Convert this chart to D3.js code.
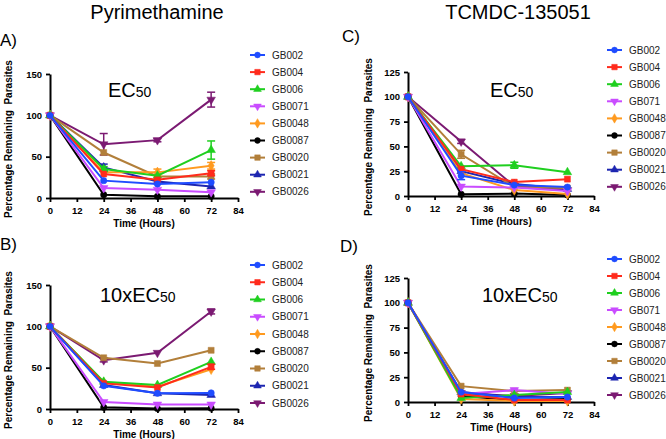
<!DOCTYPE html>
<html><head><meta charset="utf-8">
<script src="https://cdn.jsdelivr.net/npm/d3@7"></script>
<style>body{margin:0;background:#fff} text{font-family:"Liberation Sans",Arial,sans-serif}</style>
</head><body><svg id="c" width="666" height="439"></svg>
<script>
const hours=[0,24,48,72];
const xTicks=[0,12,24,36,48,60,72,84];
const strainsPyr=["GB002","GB004","GB006","GB0071","GB0048","GB0087","GB0020","GB0021","GB0026"];
const strainsTc=["GB002","GB004","GB006","GB071","GB0048","GB0087","GB0020","GB0021","GB0026"];
const colors=["#1f4cff","#ff2b1c","#1fcf1f","#c94cff","#ff9a1f","#000000","#b27f3a","#1c25b0","#7b1a72"];
const shapes=["circle","square","triangle","triangleDown","diamond","circle","square","triangle","triangleDown"];

// A) Pyrimethamine EC50
const pyrEC50=[[100,21,17,19],[100,29,22,30],[100,35,27,58],[100,12,10,7],[100,31,31,39],[100,4,2,2],[100,55,26,26],[100,37,20,14],[100,65,70,119]];
const pyrEC50Err=[[0,0,0,0],[0,0,0,3],[0,3,0,11],[0,0,0,0],[0,0,4,4],[0,0,0,0],[0,0,0,3],[0,4,0,0],[0,13,2,9]];
// B) Pyrimethamine 10xEC50
const pyr10EC50=[[100,28,19,19.5],[100,31,26,51],[100,33,29,57],[100,8.5,5.5,5.5],[100,32,27,48],[100,2,0.5,1],[100,62,55,71],[100,29,19,17],[100,59,68,118]];
const pyr10EC50Err=[[0,0,0,0],[0,0,0,3],[0,0,0,0],[0,0,0,0],[0,0,0,0],[0,0,0,0],[0,0,0,0],[0,0,0,0],[0,2,0,3]];
// C) TCMDC-135051 EC50
const tcEC50=[[100,20.5,11,9],[100,27,14,17],[100,30,31,24],[100,9.5,8.5,5],[100,23,6,2],[100,1.7,2.4,1],[100,42,9,8],[100,25,12,7],[100,55,10,6]];
const tcEC50Err=[[0,4,0,0],[0,0,0,0],[0,0,3,0],[0,0,0,0],[0,0,0,0],[0,0,0,0],[0,4,0,0],[0,0,0,0],[0,2,0,0]];
// D) TCMDC-135051 10xEC50
const tc10EC50=[[100,10,4,5],[100,8,2,2],[100,4,7,10],[100,8,12,8],[100,3,1,1],[100,6,2,3],[100,16,11,12],[100,10,5,5],[100,9,6,9]];
const tc10EC50Err=[[0,0,0,0],[0,0,0,0],[0,0,0,0],[0,0,0,0],[0,0,0,0],[0,0,0,0],[0,0,0,0],[0,0,0,0],[0,0,0,0]];

const yTicksPyr=[0,50,100,150];
const yTicksTc=[0,25,50,75,100,125];

const svg=d3.select("#c");
const symMap={circle:d3.symbolCircle,square:d3.symbolSquare,triangle:d3.symbolTriangle,triangleDown:d3.symbolTriangle,diamond:d3.symbolDiamond};

const panels=[
 {letter:"A)",lx:0,ly:46,vals:pyrEC50,err:pyrEC50Err,names:strainsPyr,x0:50,x1:238,yT:74,yB:198,ymax:150,yt:yTicksPyr,label:"EC",sub:"50",labX:108,labY:97,legX:250,legY:55,legStep:17.1,ylabX:12},
 {letter:"B)",lx:0,ly:250,vals:pyr10EC50,err:pyr10EC50Err,names:strainsPyr,x0:50,x1:238,yT:285,yB:409,ymax:150,yt:yTicksPyr,label:"10xEC",sub:"50",labX:100,labY:302,legX:250,legY:265,legStep:17.25,ylabX:12},
 {letter:"C)",lx:342,ly:42,vals:tcEC50,err:tcEC50Err,names:strainsTc,x0:408,x1:594,yT:72,yB:196,ymax:125,yt:yTicksTc,label:"EC",sub:"50",labX:490,labY:97,legX:607,legY:50,legStep:17.1,ylabX:372},
 {letter:"D)",lx:340,ly:252,vals:tc10EC50,err:tc10EC50Err,names:strainsTc,x0:408,x1:594,yT:278,yB:402,ymax:125,yt:yTicksTc,label:"10xEC",sub:"50",labX:482,labY:302,legX:607,legY:259,legStep:17,ylabX:372}
];

svg.append("text").attr("x",157).attr("y",19).attr("text-anchor","middle").attr("font-size",20).text("Pyrimethamine");
svg.append("text").attr("x",518).attr("y",19).attr("text-anchor","middle").attr("font-size",20).text("TCMDC-135051");

function marker(g,shape,color,x,y,size){
  g.append("path").attr("d",d3.symbol().type(symMap[shape]).size(size)())
   .attr("transform",`translate(${x},${y})`+(shape==="triangleDown"?" rotate(180)":""))
   .attr("fill",color).attr("stroke",color).attr("stroke-width",0.5);
}

panels.forEach(p=>{
  const g=svg.append("g");
  const x=d3.scaleLinear().domain([0,84]).range([p.x0,p.x1]);
  const y=d3.scaleLinear().domain([0,p.ymax]).range([p.yB,p.yT]);
  g.append("text").attr("x",p.lx).attr("y",p.ly).attr("font-size",17).text(p.letter);
  // axes
  const xa=g.append("g").attr("transform",`translate(0,${p.yB})`)
    .call(d3.axisBottom(x).tickValues(xTicks).tickSize(4).tickSizeOuter(0).tickFormat(d3.format("d")));
  const ya=g.append("g").attr("transform",`translate(${p.x0},0)`)
    .call(d3.axisLeft(y).tickValues(p.yt).tickSize(4).tickSizeOuter(0));
  [xa,ya].forEach(a=>{
    a.select(".domain").attr("stroke","#000").attr("stroke-width",2);
    a.selectAll(".tick line").attr("stroke","#000").attr("stroke-width",1.8);
    a.selectAll(".tick text").attr("font-size",9.5).attr("font-weight","bold").attr("fill","#000")
      .attr("font-family",'"Liberation Sans",Arial,sans-serif');
  });
  xa.selectAll(".tick text").attr("dy","0.9em");
  ya.selectAll(".tick text").attr("dx","-1px");
  g.append("text").attr("x",(p.x0+p.x1)/2).attr("y",p.yB+29).attr("text-anchor","middle")
    .attr("font-size",10).attr("font-weight","bold").text("Time (Hours)");
  g.append("text").attr("transform",`translate(${p.ylabX},${(p.yT+p.yB)/2+3}) rotate(-90)`)
    .attr("text-anchor","middle").attr("font-size",10).attr("font-weight","bold")
    .attr("xml:space","preserve").text("Percentage Remaining  Parasites");
  // inner label
  const t=g.append("text").attr("x",p.labX).attr("y",p.labY).attr("font-size",20);
  t.append("tspan").text(p.label);
  t.append("tspan").attr("font-size",14).text(p.sub);
  // series, drawn last-to-first so GB002 is on top
  const line=d3.line().x((d,i)=>x(hours[i])).y(d=>y(d));
  for(let s=p.vals.length-1;s>=0;s--){
    const c=colors[s];
    const sg=g.append("g");
    sg.append("path").attr("d",line(p.vals[s])).attr("fill","none").attr("stroke",c).attr("stroke-width",2);
    p.vals[s].forEach((v,i)=>{
      const e=p.err[s][i];
      if(e>0){
        const cx=x(hours[i]);
        sg.append("line").attr("x1",cx).attr("x2",cx).attr("y1",y(v-e)).attr("y2",y(v+e)).attr("stroke",c).attr("stroke-width",1.5);
        [v-e,v+e].forEach(w=>sg.append("line").attr("x1",cx-4).attr("x2",cx+4).attr("y1",y(w)).attr("y2",y(w)).attr("stroke",c).attr("stroke-width",1.5));
      }
      marker(sg,shapes[s],c,x(hours[i]),y(v),shapes[s]==="square"?36:32);
    });
  }
  // legend
  p.names.forEach((n,i)=>{
    const ly=p.legY+i*p.legStep;
    g.append("line").attr("x1",p.legX).attr("x2",p.legX+15).attr("y1",ly).attr("y2",ly).attr("stroke",colors[i]).attr("stroke-width",2);
    marker(g,shapes[i],colors[i],p.legX+7.5,ly,shapes[i]==="square"?30:26);
    g.append("text").attr("x",p.legX+22).attr("y",ly+3.5).attr("font-size",10).attr("fill","#222").text(n);
  });
});
</script></body></html>
